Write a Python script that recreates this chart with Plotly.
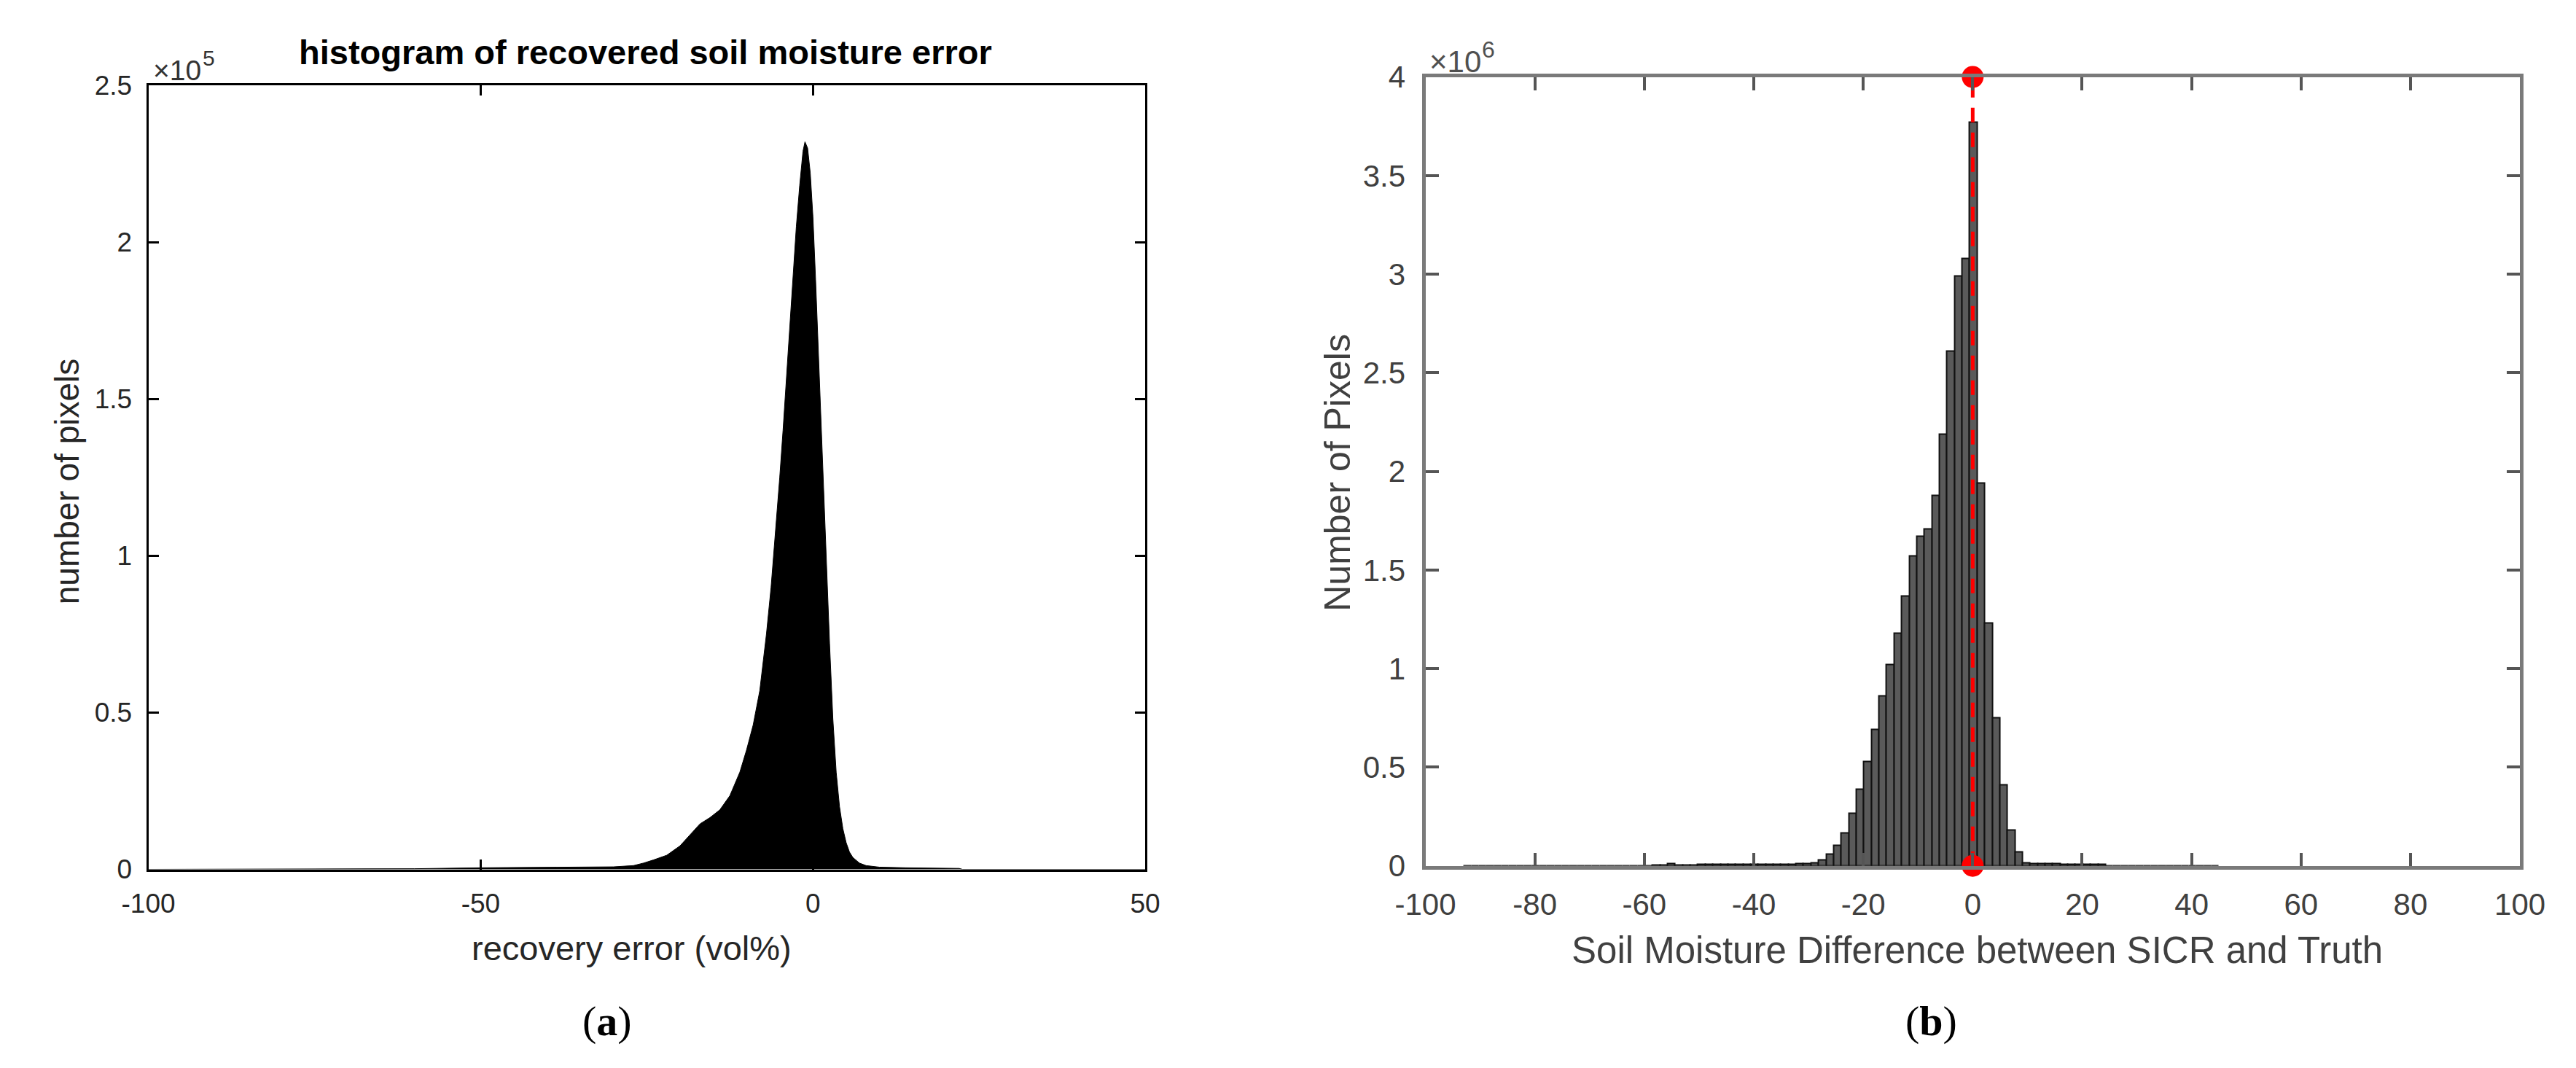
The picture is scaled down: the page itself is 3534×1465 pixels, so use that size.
import plotly.graph_objects as go

# ---------------- Data: panel (a) ----------------
a_err = [-100, -70, -60, -50, -40, -30, -27, -25.5, -24, -22, -20, -18.5, -17, -15.5, -14,
         -12.5, -11, -10, -9, -8, -7, -6.3, -5.6, -5, -4.5, -4, -3.5, -3, -2.5, -2, -1.5,
         -1.2, -0.8, -0.4, 0, 0.4, 0.8, 1.2, 1.6, 2, 2.5, 3, 3.5, 4, 4.5, 5, 5.5, 6, 7, 8,
         10, 14, 18, 22, 22.5, 50]
a_count = [0, 200, 200, 500, 600, 800, 1200, 2000, 3000, 4500, 7500, 11000, 14500, 16500, 19000,
           23500, 31000, 38000, 46000, 57000, 75000, 90000, 108000, 125000, 140000, 156000,
           172000, 188000, 205000, 218000, 229000, 232000, 230000, 222000, 208000, 188000,
           166000, 144000, 120000, 98000, 72000, 48000, 31000, 20000, 13000, 8500, 5500, 3800,
           2000, 1200, 700, 500, 400, 300, 0, 0]
a_xticks = [-100, -50, 0, 50]
a_xticklabels = ["-100", "-50", "0", "50"]
a_yticks = [0, 50000, 100000, 150000, 200000, 250000]
a_yticklabels = ["0", "0.5", "1", "1.5", "2", "2.5"]

# ---------------- Data: panel (b) ----------------
b_first_center = -92.35
b_bin_width = 1.38
b_count = [2000] * 25 + [3000, 3000, 12000, 4000] + \
          [6000, 6000, 7000, 7000, 7000, 7000, 8000, 8000, 8000, 8000, 8000, 8000, 9000, 9000, 9000, 10000, 10000] + \
          [15000, 30000, 60000, 105000, 165000, 265000, 390000, 530000, 690000, 860000,
           1020000, 1180000, 1370000, 1570000, 1670000, 1710000, 1880000, 2190000, 2610000,
           2990000, 3080000, 3770000, 1940000, 1230000, 750000, 410000, 180000, 70000, 15000] + \
          [10000, 10000, 10000, 10000, 9000, 9000, 9000, 8000, 8000, 7000] + [2000] * 15
b_xticks = [-100, -80, -60, -40, -20, 0, 20, 40, 60, 80, 100]
b_xticklabels = ["-100", "-80", "-60", "-40", "-20", "0", "20", "40", "60", "80", "100"]
b_yticks = [0, 500000, 1000000, 1500000, 2000000, 2500000, 3000000, 3500000, 4000000]
b_yticklabels = ["0", "0.5", "1", "1.5", "2", "2.5", "3", "3.5", "4"]
b_line_x = [0, 0]
b_line_y = [0, 4000000]

W, H = 3534, 1465
SANS = "Liberation Sans, Arial, Helvetica, sans-serif"
SERIF = "Liberation Serif, Times New Roman, serif"

def px(x):
    return x / W

def py(y):
    return 1 - y / H

fig = go.Figure()

fig.add_trace(go.Scatter(
    x=a_err, y=a_count, mode="lines", fill="tozeroy",
    line=dict(color="black", width=1), fillcolor="black",
    xaxis="x", yaxis="y", showlegend=False, hoverinfo="skip"))

fig.add_trace(go.Bar(
    x0=b_first_center, dx=b_bin_width, y=b_count,
    marker=dict(color="#5a5a5a", line=dict(color="#111111", width=2)),
    xaxis="x2", yaxis="y2", showlegend=False))

fig.add_trace(go.Scatter(
    x=b_line_x, y=b_line_y, mode="lines+markers",
    line=dict(color="#ff0000", width=5, dash="20px,14px"),
    marker=dict(color="#ff0000", size=30),
    cliponaxis=False, xaxis="x2", yaxis="y2", showlegend=False))

ax = dict(showgrid=False, zeroline=False, ticks="inside", showline=True, mirror="allticks")

fig.update_layout(
    width=W, height=H, margin=dict(l=0, r=0, t=0, b=0),
    paper_bgcolor="white", plot_bgcolor="white", bargap=0,
    xaxis=dict(**ax, domain=[px(157), px(1555)], range=[-100, 50], tickvals=a_xticks,
               ticktext=a_xticklabels,
               ticklen=14, tickwidth=3, tickcolor="black", linecolor="black", linewidth=3,
               tickfont=dict(family=SANS, size=37, color="#262626"), ticklabelstandoff=12,
               anchor="y"),
    yaxis=dict(**ax, domain=[py(1200), py(89)], range=[0, 250000], tickvals=a_yticks,
               ticktext=a_yticklabels, ticklen=14, tickwidth=3, tickcolor="black",
               linecolor="black", linewidth=3,
               tickfont=dict(family=SANS, size=37, color="#262626"), ticklabelstandoff=12,
               anchor="x"),
    xaxis2=dict(**ax, domain=[px(1948), px(3483)], range=[-100, 100], tickvals=b_xticks,
                ticktext=b_xticklabels,
                ticklen=18, tickwidth=4, tickcolor="#555555", linecolor="#7a7a7a", linewidth=5,
                tickfont=dict(family=SANS, size=42, color="#404040"), ticklabelstandoff=12,
                anchor="y2"),
    yaxis2=dict(**ax, domain=[py(1195), py(77)], range=[0, 4000000], tickvals=b_yticks,
                ticktext=b_yticklabels, ticklen=18, tickwidth=4, tickcolor="#555555",
                linecolor="#7a7a7a", linewidth=5,
                tickfont=dict(family=SANS, size=42, color="#404040"), ticklabelstandoff=14,
                anchor="x2"),
)

ann = []
def add(text, x, y, size, color="#262626", family=SANS, angle=0, xanchor="center", yanchor="middle"):
    ann.append(dict(text=text, x=px(x), y=py(y), xref="paper", yref="paper",
                    showarrow=False, textangle=angle, xanchor=xanchor, yanchor=yanchor,
                    font=dict(family=family, size=size, color=color)))

add("<b>histogram of recovered soil moisture error</b>", 854, 42, 47, color="black")
add("×10", 162, 68, 39, color="#333333", xanchor="left")
add("5", 231, 50, 30, color="#333333", xanchor="left")
add("recovery error (vol%)", 835, 1312, 47)
add("number of pixels", 43, 650, 46, angle=-90)
add("(<b>a</b>)", 800, 1415, 58, color="black", family=SERIF)

add("×10", 1952, 55, 42, color="#505050", xanchor="left")
add("6", 2025, 38, 32, color="#505050", xanchor="left")
add("Soil Moisture Difference between SICR and Truth", 2722, 1315, 51, color="#404040")
add("Number of Pixels", 1824, 638, 50, color="#404040", angle=-90)
add("(<b>b</b>)", 2657, 1415, 58, color="black", family=SERIF)

fig.update_layout(annotations=ann)
fig.write_html("out.html")
